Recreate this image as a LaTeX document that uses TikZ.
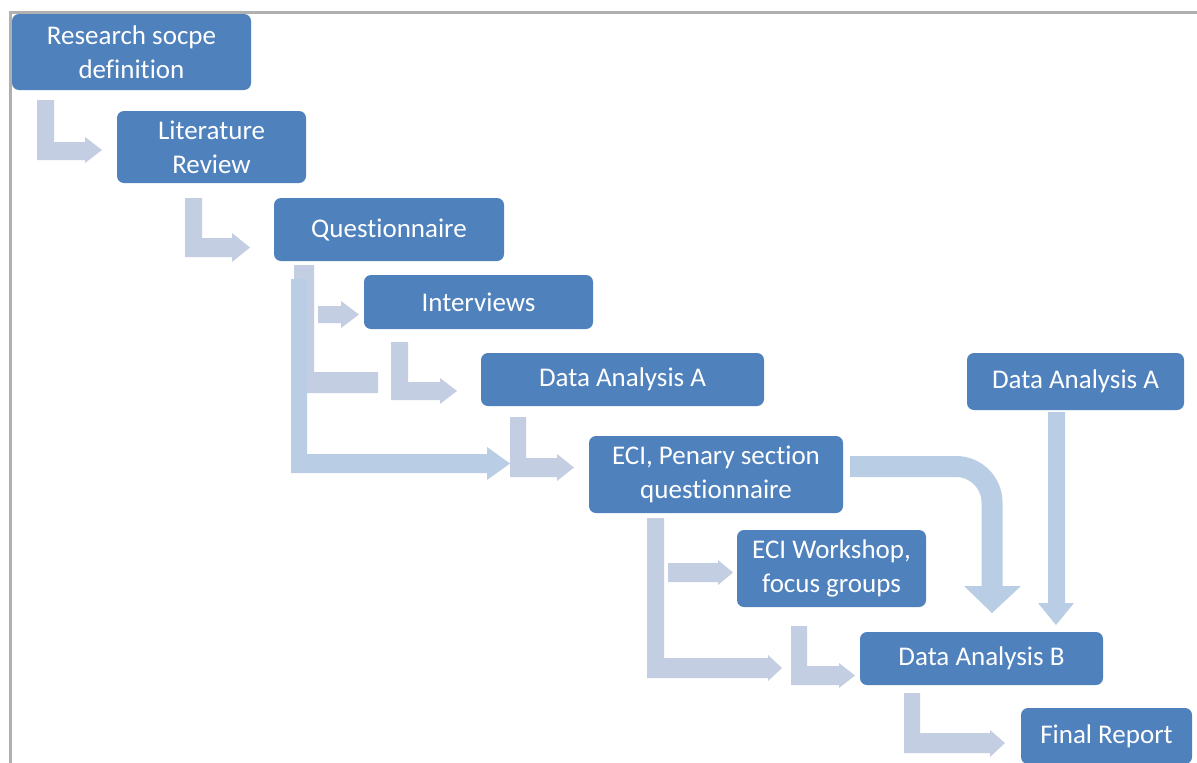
\documentclass[tikz,border=0pt]{standalone}
\usepackage{fontspec}
\setmainfont{Carlito}[Ligatures=NoCommon]
\definecolor{boxblue}{HTML}{4F81BD}
\definecolor{elbowgray}{HTML}{C4CEE2}
\definecolor{arrowblue}{HTML}{B9CDE5}
\definecolor{framegray}{HTML}{B0B0B0}
\begin{document}
\begin{tikzpicture}[x=1pt,y=-1pt,
  stepbox/.style={rectangle, rounded corners=7pt, fill=boxblue, text=white, inner sep=0pt,
    align=center, font=\fontsize{27}{34}\selectfont},
  elbow/.style={fill=elbowgray, draw=none},
  bluearrow/.style={fill=arrowblue, draw=none}]
\useasboundingbox (0,0) rectangle (1197,763);
\fill[white] (0,0) rectangle (1197,763);
% frame
\draw[framegray, line width=3pt] (10,763) -- (10,12.5) -- (1197,12.5);

% boxes
\node[stepbox, minimum width=239pt, minimum height=76pt] (rsd) at (131.5,52) {Research socpe\\definition};
\node[stepbox, minimum width=189pt, minimum height=72pt] (lit) at (211.5,147) {Literature\\Review};
\node[stepbox, minimum width=230pt, minimum height=63pt] (que) at (389,229.5) {Questionnaire};
\node[stepbox, minimum width=229pt, minimum height=54pt] (int) at (478.5,302) {Interviews};
\node[stepbox, minimum width=283pt, minimum height=53pt] (daa) at (622.5,379.5) {Data Analysis A};
\node[stepbox, minimum width=254pt, minimum height=77pt] (eci) at (716,474.5) {ECI, Penary section\\questionnaire};
\node[stepbox, minimum width=189pt, minimum height=77pt] (ews) at (831.5,568.5) {ECI Workshop,\\focus groups};
\node[stepbox, minimum width=243pt, minimum height=53pt] (dab) at (981.5,658.5) {Data Analysis B};
\node[stepbox, minimum width=171pt, minimum height=56pt] (fin) at (1106.5,736) {Final Report};
\node[stepbox, minimum width=217pt, minimum height=57pt] (dar) at (1075.5,381.5) {Data Analysis A};

% elbow: research -> literature
\fill[elbow] (37,100) -- (54,100) -- (54,142) -- (85,142) -- (85,137) -- (102,150) -- (85,163) -- (85,160) -- (37,160) -- cycle;
% elbow: literature -> questionnaire
\fill[elbow] (185,198) -- (202,198) -- (202,238) -- (232,238) -- (232,233) -- (250,247.5) -- (232,262) -- (232,257) -- (185,257) -- cycle;
% questionnaire branch (gray)
\fill[elbow] (294,265) -- (314,265) -- (314,372) -- (378,372) -- (378,393) -- (294,393) -- cycle;
\fill[elbow] (318,306) -- (341,306) -- (341,301) -- (359,314.5) -- (341,328) -- (341,323) -- (318,323) -- cycle;
% questionnaire -> ECI (blue)
\fill[bluearrow] (291,279) -- (307,279) -- (307,454) -- (487,454) -- (487,447) -- (510,463.5) -- (487,480) -- (487,473) -- (291,473) -- cycle;
% interviews -> data analysis A
\fill[elbow] (391,342) -- (408,342) -- (408,382) -- (440,382) -- (440,378) -- (457,391) -- (440,404) -- (440,400) -- (391,400) -- cycle;
% data analysis A -> ECI
\fill[elbow] (510,417) -- (526,417) -- (526,458) -- (557,458) -- (557,454) -- (574,467.5) -- (557,481) -- (557,477) -- (510,477) -- cycle;
% ECI -> workshop
\fill[elbow] (668,563) -- (718,563) -- (718,560) -- (733,572.5) -- (718,585) -- (718,582) -- (668,582) -- cycle;
% ECI -> data analysis B
\fill[elbow] (647,518) -- (664,518) -- (664,658) -- (768,658) -- (768,655) -- (782,668) -- (768,681) -- (768,678) -- (647,678) -- cycle;
% workshop -> data analysis B
\fill[elbow] (791,626) -- (807,626) -- (807,666) -- (839,666) -- (839,663) -- (855,675.5) -- (839,688) -- (839,685) -- (791,685) -- cycle;
% data analysis B -> final report
\fill[elbow] (904,693) -- (920,693) -- (920,733) -- (990,733) -- (990,730) -- (1005,743) -- (990,757) -- (990,753) -- (904,753) -- cycle;
% ECI -> data analysis B (curved)
\coordinate (c1) at (850,466.5);
\coordinate (c2) at (992,586.5);
\draw[arrowblue, line width=21pt, rounded corners=36pt] (c1) -| (c2);
\fill[bluearrow] (964,586) -- (1021,586) -- (992,613) -- cycle;
% right data analysis A -> data analysis B
\fill[bluearrow] (1048,412) -- (1065,412) -- (1065,603) -- (1074,603) -- (1056,625) -- (1038,603) -- (1048,603) -- cycle;
\end{tikzpicture}
\end{document}
